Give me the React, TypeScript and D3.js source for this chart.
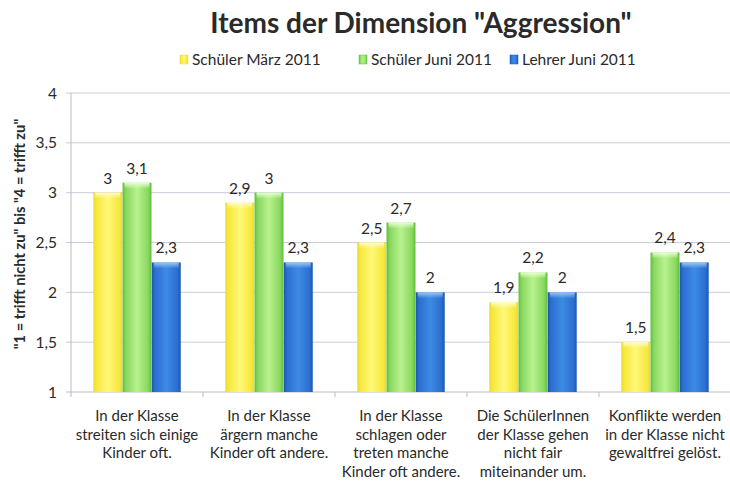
import React from "react";
import * as d3 from "d3";

const categories = [
  ["In der Klasse", "streiten sich einige", "Kinder oft."],
  ["In der Klasse", "ärgern manche", "Kinder oft andere."],
  ["In der Klasse", "schlagen oder", "treten manche", "Kinder oft andere."],
  ["Die SchülerInnen", "der Klasse gehen", "nicht fair", "miteinander um."],
  ["Konflikte werden", "in der Klasse nicht", "gewaltfrei gelöst."],
];
const seriesNames = ["Schüler März 2011", "Schüler Juni 2011", "Lehrer Juni 2011"];
const schuelerMaerz = [3, 2.9, 2.5, 1.9, 1.5];
const schuelerJuni = [3.1, 3, 2.7, 2.2, 2.4];
const lehrerJuni = [2.3, 2.3, 2, 2, 2.3];
const yTicks = [1, 1.5, 2, 2.5, 3, 3.5, 4];

const seriesValues = [schuelerMaerz, schuelerJuni, lehrerJuni];
const palette = [
  { edge: "#EEDC2E", mid: "#FFF87A", top: "#FFFDC8", sw: "#F6E83C" },
  { edge: "#5FBF3E", mid: "#B8F28E", top: "#E8FFD6", sw: "#8AD860" },
  { edge: "#1B57B4", mid: "#3E8BE4", top: "#9CC8F4", sw: "#2C6FD0" },
];

const FONT = "Lato, 'Open Sans', sans-serif";
const W = 730;
const H = 482;
const left = 71;
const right = 731;
const top = 93;
const bottom = 392;

export default function App() {
  const idx = categories.map((_, i) => String(i));
  const x = d3.scaleBand().domain(idx).range([left, right]).paddingInner(0.333).paddingOuter(0.1667);
  const xs = d3.scaleBand().domain(seriesNames).range([0, x.bandwidth()]).padding(0.01);
  const y = d3.scaleLinear().domain([1, 4]).range([bottom, top]);
  const fmt = (v: number) => String(v).replace(".", ",");

  return (
    <svg width={W} height={H} style={{ display: "block", position: "absolute", left: 0, top: 0 }}>
      <defs>
        {palette.map((p, i) => (
          <linearGradient key={i} id={`g${i}`} x1="0" x2="1" y1="0" y2="0">
            <stop offset="0" stopColor={p.edge} />
            <stop offset="0.12" stopColor={p.sw} />
            <stop offset="0.5" stopColor={p.mid} />
            <stop offset="0.88" stopColor={p.sw} />
            <stop offset="1" stopColor={p.edge} />
          </linearGradient>
        ))}
        {palette.map((p, i) => (
          <linearGradient key={i} id={`t${i}`} x1="0" x2="0" y1="0" y2="1">
            <stop offset="0" stopColor={p.top} />
            <stop offset="1" stopColor={p.top} stopOpacity="0" />
          </linearGradient>
        ))}
      </defs>
      <rect width={W} height={H} fill="#fff" />
      <text x={421} y={33} textAnchor="middle" fontFamily={FONT} fontWeight="bold" fontSize={28} fill="#2a2a2a">
        Items der Dimension "Aggression"
      </text>
      {/* legend */}
      {seriesNames.map((s, i) => {
        const lx = [180, 359, 510][i];
        return (
          <g key={s}>
            <rect x={lx} y={55} width={8} height={9} fill={`url(#g${i})`} stroke={palette[i].edge} strokeWidth={0.5} />
            <text x={lx + 12} y={65} fontFamily={FONT} fontSize={15.5} fill="#2a2a2a">
              {s}
            </text>
          </g>
        );
      })}
      {/* gridlines */}
      {yTicks.map((t) => (
        <g key={t}>
          <line x1={left - 5} x2={right} y1={y(t)} y2={y(t)} stroke={t === 1 ? "#B8BCC8" : "#C9CEDA"} strokeWidth={1} />
          <text x={57} y={y(t) + 5.5} textAnchor="end" fontFamily={FONT} fontSize={15.5} fill="#2a2a2a">
            {fmt(t)}
          </text>
        </g>
      ))}
      <line x1={left} x2={left} y1={top} y2={bottom} stroke="#B8BCC8" />
      {idx.map((c, i) => (
        <line key={c} x1={left + i * x.step()} x2={left + i * x.step()} y1={bottom} y2={bottom + 5} stroke="#B8BCC8" />
      ))}
      <text
        transform={`translate(25,234) rotate(-90)`}
        textAnchor="middle"
        fontFamily={FONT}
        fontWeight="bold"
        fontSize={14.7}
        fill="#2a2a2a"
      >
        "1 = trifft nicht zu" bis "4 = trifft zu"
      </text>
      {/* bars */}
      {idx.map((c, ci) => (
        <g key={c} transform={`translate(${x(c)},0)`}>
          {seriesNames.map((s, si) => {
            const v = seriesValues[si][ci];
            const bx = xs(s) as number;
            const bw = xs.bandwidth();
            const yt = y(v);
            return (
              <g key={s}>
                <rect x={bx} y={yt} width={bw} height={bottom - yt} fill={`url(#g${si})`} />
                <rect x={bx + 2} y={yt} width={bw - 4} height={6} fill={`url(#t${si})`} />
                <text
                  x={bx + bw / 2}
                  y={yt - 9}
                  textAnchor="middle"
                  fontFamily={FONT}
                  fontSize={15.5}
                  fill="#2a2a2a"
                >
                  {fmt(v)}
                </text>
              </g>
            );
          })}
        </g>
      ))}
      {/* x labels */}
      {categories.map((lines, ci) => (
        <text
          key={ci}
          x={(x(String(ci)) as number) + x.bandwidth() / 2}
          y={421}
          textAnchor="middle"
          fontFamily={FONT}
          fontSize={15}
          fill="#2a2a2a"
        >
          {lines.map((l, li) => (
            <tspan key={li} x={(x(String(ci)) as number) + x.bandwidth() / 2} dy={li === 0 ? 0 : 18.5}>
              {l}
            </tspan>
          ))}
        </text>
      ))}
    </svg>
  );
}
